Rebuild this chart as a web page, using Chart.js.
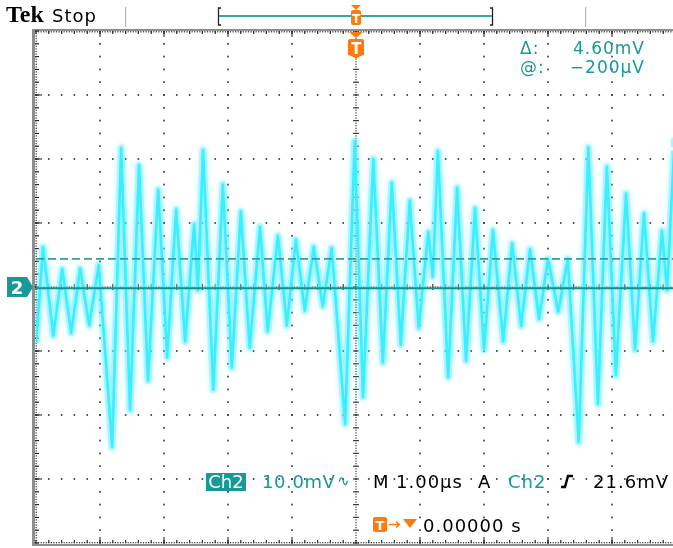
<!DOCTYPE html>
<html>
<head>
<meta charset="utf-8">
<script src="https://cdn.jsdelivr.net/npm/chart.js@4.4.1/dist/chart.umd.min.js"></script>
<style>
  html, body { margin: 0; padding: 0; background: #fff; overflow: hidden; }
  #scope { display: block; }
</style>
</head>
<body>
<canvas id="scope" width="680" height="548"></canvas>
<script>
// horizontal: 1.00 µs/div, vertical: 10.0 mV/div
const xTicks = [-5, -4, -3, -2, -1, 0, 1, 2, 3, 4, 5];
const yTicks = [-40, -30, -20, -10, 0, 10, 20, 30, 40];

// Ch2 trace, peak / trough values (µs, mV)
const waveTimes = [
  -5.00, -4.89, -4.73, -4.59, -4.45, -4.31, -4.17, -4.02, -3.81, -3.67,
  -3.53, -3.39, -3.25, -3.09, -2.95, -2.81, -2.67, -2.53, -2.47, -2.39,
  -2.23, -2.08, -1.94, -1.80, -1.66, -1.50, -1.38, -1.22, -1.08, -0.94,
  -0.80, -0.66, -0.52, -0.38, -0.17, -0.02, 0.11, 0.27, 0.42, 0.56,
  0.70, 0.84, 0.98, 1.13, 1.20, 1.28, 1.44, 1.58, 1.72, 1.86,
  2.00, 2.14, 2.30, 2.44, 2.58, 2.72, 2.86, 3.00, 3.16, 3.31,
  3.48, 3.63, 3.78, 3.92, 4.06, 4.22, 4.36, 4.50, 4.64, 4.78,
  4.86, 4.98
];
const waveMv = [
  -8.8, 6.2, -7.6, 2.8, -7.2, 2.9, -6.0, 3.4, -25.0, 21.7,
  -19.2, 19.0, -14.6, 15.2, -11.0, 12.1, -8.5, 9.8, -0.5, 21.4,
  -16.0, 16.0, -12.6, 11.8, -9.5, 9.4, -6.9, 8.0, -6.0, 7.4,
  -3.7, 6.3, -3.0, 6.1, -21.4, 22.8, -17.2, 20.0, -11.8, 16.3,
  -9.0, 13.5, -6.4, 8.6, 1.6, 21.2, -14.1, 15.5, -11.5, 12.3,
  -9.8, 8.9, -8.5, 6.8, -6.1, 5.9, -5.0, 4.4, -3.9, 4.4,
  -24.2, 21.8, -18.3, 18.8, -13.8, 14.6, -9.8, 11.5, -8.5, 8.8,
  -0.5, 23.3
];

const cursorLevels = [-0.2, 4.4];   // @: -200µV, Δ: 4.60mV
const triggerLevel = 21.6;          // mV
const triggerTime = 0;              // µs

const TEAL = '#17999a';
const ORANGE = '#ff7a0e';

const trace = waveTimes.map((t, i) => ({ x: t, y: waveMv[i] }));
const xMin = xTicks[0], xMax = xTicks[xTicks.length - 1];
const cursorLine = v => [{ x: xMin, y: v }, { x: xMax, y: v }];

// dotted graticule + frame with tick marks
const graticule = {
  id: 'graticule',
  beforeDatasetsDraw(chart) {
    const { ctx, chartArea: a, scales: { x, y } } = chart;
    const xStep = (xTicks[1] - xTicks[0]) / 5;
    const yStep = (yTicks[1] - yTicks[0]) / 5;
    const yMin = yTicks[0];
    const nx = Math.round((xMax - xMin) / xStep);
    const ny = Math.round((yTicks[yTicks.length - 1] - yMin) / yStep);
    const dot = (px, py, s) => ctx.fillRect(px - s / 2, py - s / 2, s, s);

    ctx.save();
    ctx.fillStyle = '#3c3c3c';
    xTicks.slice(1, -1).forEach(t => {
      if (t === triggerTime) return;
      const px = x.getPixelForValue(t);
      for (let i = 0; i <= ny; i++) dot(px, y.getPixelForValue(yMin + i * yStep), 1.7);
      ctx.fillRect(px - 0.6, a.top, 1.2, 6);
      ctx.fillRect(px - 0.6, a.bottom - 6, 1.2, 6);
    });
    yTicks.slice(1, -1).forEach(v => {
      if (v === 0) return;
      const py = y.getPixelForValue(v);
      for (let i = 0; i <= nx; i++) dot(x.getPixelForValue(xMin + i * xStep), py, 1.7);
      ctx.fillRect(a.left, py - 0.6, 6, 1.2);
    });

    // centre cross
    const cx = x.getPixelForValue(0), cy = y.getPixelForValue(0);
    for (let i = 0; i <= ny * 5; i++) dot(cx, y.getPixelForValue(yMin + i * yStep / 5), 1.2);
    for (let i = 0; i <= ny; i++) ctx.fillRect(cx - 3, y.getPixelForValue(yMin + i * yStep) - 0.6, 6, 1.2);
    for (let i = 0; i <= nx * 5; i++) dot(x.getPixelForValue(xMin + i * xStep / 5), cy, 1.2);
    for (let i = 0; i <= nx; i++) ctx.fillRect(x.getPixelForValue(xMin + i * xStep) - 0.6, cy - 3, 1.2, 6);

    // frame
    ctx.fillStyle = '#8e8e8e';
    ctx.fillRect(a.left - 4, a.top - 2, 3, a.bottom - a.top + 5);
    ctx.fillRect(a.left - 4, a.top - 2, a.right - a.left + 8, 2);
    ctx.fillRect(a.left - 4, a.bottom + 1, a.right - a.left + 8, 2);
    ctx.fillStyle = '#2a2a2a';
    for (let i = 0; i <= nx * 5; i++) {
      const px = x.getPixelForValue(xMin + i * xStep / 5);
      dot(px, a.top + 0.8, 1.2);
      dot(px, a.bottom - 0.3, 1.2);
    }
    for (let i = 0; i <= nx; i++) {
      const px = x.getPixelForValue(xMin + i * xStep);
      ctx.fillRect(px - 0.6, a.top, 1.2, 3);
      ctx.fillRect(px - 0.6, a.bottom - 3, 1.2, 3);
    }
    for (let i = 0; i <= ny * 5; i++) dot(a.left + 0.2, y.getPixelForValue(yMin + i * yStep / 5), 1.2);
    for (let i = 0; i <= ny; i++) ctx.fillRect(a.left - 1, y.getPixelForValue(yMin + i * yStep) - 0.6, 4, 1.2);
    ctx.restore();
  }
};

// soft phosphor halo round the trace
const halo = {
  id: 'halo',
  beforeDatasetDraw(chart, args) {
    if (chart.data.datasets[args.index].label !== 'Ch2 glow') return;
    chart.ctx.save();
    chart.ctx.shadowColor = 'rgba(90, 232, 255, 0.9)';
    chart.ctx.shadowBlur = 5;
  },
  afterDatasetDraw(chart, args) {
    if (chart.data.datasets[args.index].label !== 'Ch2 glow') return;
    chart.ctx.restore();
  }
};

function textAt(ctx, str, px, py, font, color, align) {
  ctx.font = font;
  ctx.fillStyle = color;
  ctx.textAlign = align || 'left';
  ctx.fillText(str, px, py);
}

// status bar, markers and readouts
const overlays = {
  id: 'overlays',
  afterDraw(chart) {
    const { ctx, chartArea: a, scales: { x, y } } = chart;
    ctx.save();
    ctx.textBaseline = 'alphabetic';
    ctx.letterSpacing = '0px';

    // top status bar
    textAt(ctx, 'Tek', 6, 22, 'bold 24px "Liberation Serif"', '#000');
    ctx.letterSpacing = '1px';
    textAt(ctx, 'Stop', 52, 22, '18px "DejaVu Sans"', '#000');
    ctx.fillStyle = '#b4b4b4';
    ctx.fillRect(125, 7, 1.2, 20);
    ctx.fillRect(585, 7, 1.2, 20);
    ctx.strokeStyle = '#222';
    ctx.lineWidth = 1.3;
    ctx.beginPath();
    ctx.moveTo(221, 8); ctx.lineTo(218.5, 8); ctx.lineTo(218.5, 25); ctx.lineTo(221, 25);
    ctx.moveTo(490, 8); ctx.lineTo(492.5, 8); ctx.lineTo(492.5, 25); ctx.lineTo(490, 25);
    ctx.stroke();
    ctx.fillStyle = '#3aa5a5';
    ctx.fillRect(219, 15, 273, 2);

    const tx = x.getPixelForValue(triggerTime);
    ctx.fillStyle = ORANGE;
    ctx.beginPath();
    ctx.moveTo(tx - 5, 5); ctx.lineTo(tx + 5, 5); ctx.lineTo(tx, 10); ctx.fill();
    ctx.beginPath();
    ctx.roundRect(tx - 5, 10, 10, 15, 2);
    ctx.fill();
    ctx.letterSpacing = '0px';
    textAt(ctx, 'T', tx, 23, 'bold 12px "DejaVu Sans"', '#fff', 'center');

    // trigger position marker below the top edge
    ctx.fillStyle = ORANGE;
    ctx.beginPath();
    ctx.moveTo(tx - 7, a.top + 1); ctx.lineTo(tx + 7, a.top + 1); ctx.lineTo(tx, a.top + 7); ctx.fill();
    ctx.beginPath();
    ctx.moveTo(tx - 8, a.top + 10);
    ctx.quadraticCurveTo(tx - 8, a.top + 8, tx - 6, a.top + 8);
    ctx.lineTo(tx + 6, a.top + 8);
    ctx.quadraticCurveTo(tx + 8, a.top + 8, tx + 8, a.top + 10);
    ctx.lineTo(tx + 8, a.top + 24);
    ctx.lineTo(tx + 2, a.top + 26);
    ctx.lineTo(tx, a.top + 28);
    ctx.lineTo(tx - 2, a.top + 26);
    ctx.lineTo(tx - 8, a.top + 24);
    ctx.closePath();
    ctx.fill();
    textAt(ctx, 'T', tx, a.top + 23, 'bold 15px "DejaVu Sans"', '#fff', 'center');

    // Ch2 ground marker
    const gy = y.getPixelForValue(0);
    ctx.fillStyle = TEAL;
    ctx.beginPath();
    ctx.moveTo(7, gy - 10); ctx.lineTo(27, gy - 10); ctx.lineTo(33, gy);
    ctx.lineTo(27, gy + 10); ctx.lineTo(7, gy + 10); ctx.closePath();
    ctx.fill();
    textAt(ctx, '2', 17, gy + 7, 'bold 18px "DejaVu Sans"', '#fff', 'center');

    // trigger level arrow on the right
    const ty = y.getPixelForValue(triggerLevel);
    ctx.beginPath();
    ctx.moveTo(662, ty); ctx.lineTo(670, ty - 6); ctx.lineTo(670, ty + 6); ctx.closePath();
    ctx.fill();
    ctx.fillRect(669, ty - 1.5, 6, 3);

    // cursor readout
    ctx.letterSpacing = '1px';
    textAt(ctx, 'Δ:', 520, 54, '17px "DejaVu Sans"', TEAL);
    textAt(ctx, '4.60mV', 645, 54, '17px "DejaVu Sans"', TEAL, 'right');
    textAt(ctx, '@:', 520, 73, '17px "DejaVu Sans"', TEAL);
    textAt(ctx, '−200µV', 645, 73, '17px "DejaVu Sans"', TEAL, 'right');

    // bottom readout, first row
    const f = '18px "DejaVu Sans"';
    ctx.fillStyle = TEAL;
    ctx.fillRect(206, 473, 40, 18);
    ctx.letterSpacing = '0px';
    textAt(ctx, 'Ch2', 226, 488, f, '#fff', 'center');
    ctx.letterSpacing = '0.6px';
    textAt(ctx, '10.0mV', 262, 488, f, TEAL);
    ctx.letterSpacing = '0px';
    textAt(ctx, '∿', 337, 486, '15px "DejaVu Sans"', TEAL);
    ctx.letterSpacing = '1px';
    textAt(ctx, 'M', 373, 488, f, '#000');
    textAt(ctx, '1.00µs', 396, 488, f, '#000');
    textAt(ctx, 'A', 478, 488, f, '#000');
    textAt(ctx, 'Ch2', 508, 488, f, TEAL);
    ctx.strokeStyle = '#000';
    ctx.lineWidth = 2.4;
    ctx.beginPath();
    ctx.moveTo(561, 487); ctx.lineTo(565, 487); ctx.lineTo(568, 476); ctx.lineTo(573, 476);
    ctx.stroke();
    textAt(ctx, '21.6mV', 669, 488, f, '#000', 'right');

    // second row: trigger position
    ctx.fillStyle = ORANGE;
    ctx.beginPath();
    ctx.roundRect(373, 517, 14, 15, 2);
    ctx.fill();
    ctx.letterSpacing = '0px';
    textAt(ctx, 'T', 380, 530, 'bold 13px "DejaVu Sans"', '#fff', 'center');
    ctx.strokeStyle = ORANGE;
    ctx.lineWidth = 1.5;
    ctx.beginPath();
    ctx.moveTo(389, 524.5); ctx.lineTo(399, 524.5);
    ctx.moveTo(396, 521.5); ctx.lineTo(399.5, 524.5); ctx.lineTo(396, 527.5);
    ctx.stroke();
    ctx.fillStyle = ORANGE;
    ctx.beginPath();
    ctx.moveTo(403, 519); ctx.lineTo(417, 519); ctx.lineTo(410, 528); ctx.closePath();
    ctx.fill();
    ctx.letterSpacing = '1px';
    textAt(ctx, '0.00000 s', 423, 532, f, '#000');
    ctx.restore();
  }
};

new Chart(document.getElementById('scope'), {
  type: 'line',
  data: {
    datasets: [
      {
        label: '@ cursor',
        data: cursorLine(cursorLevels[0]),
        borderColor: '#14908f',
        borderWidth: 2,
        order: 0
      },
      {
        label: 'Δ cursor',
        data: cursorLine(cursorLevels[1]),
        borderColor: '#3a9c9c',
        borderWidth: 1.6,
        borderDash: [8, 4],
        order: 0
      },
      {
        label: 'Ch2',
        data: trace,
        borderColor: '#3cefff',
        borderWidth: 2.6,
        order: 1
      },
      {
        label: 'Ch2 glow',
        data: trace,
        borderColor: 'rgba(120, 240, 255, 0.45)',
        borderWidth: 7,
        order: 2
      }
    ]
  },
  options: {
    responsive: false,
    devicePixelRatio: 1,
    animation: false,
    layout: { padding: { left: 36, top: 31, right: 4, bottom: 5 } },
    scales: {
      x: { type: 'linear', display: false, min: xMin, max: xMax },
      y: { type: 'linear', display: false, min: yTicks[0], max: yTicks[yTicks.length - 1] }
    },
    elements: {
      point: { radius: 0 },
      line: { tension: 0, borderJoinStyle: 'round', borderCapStyle: 'butt' }
    },
    plugins: {
      legend: { display: false },
      tooltip: { enabled: false }
    }
  },
  plugins: [graticule, halo, overlays]
});
</script>
</body>
</html>
